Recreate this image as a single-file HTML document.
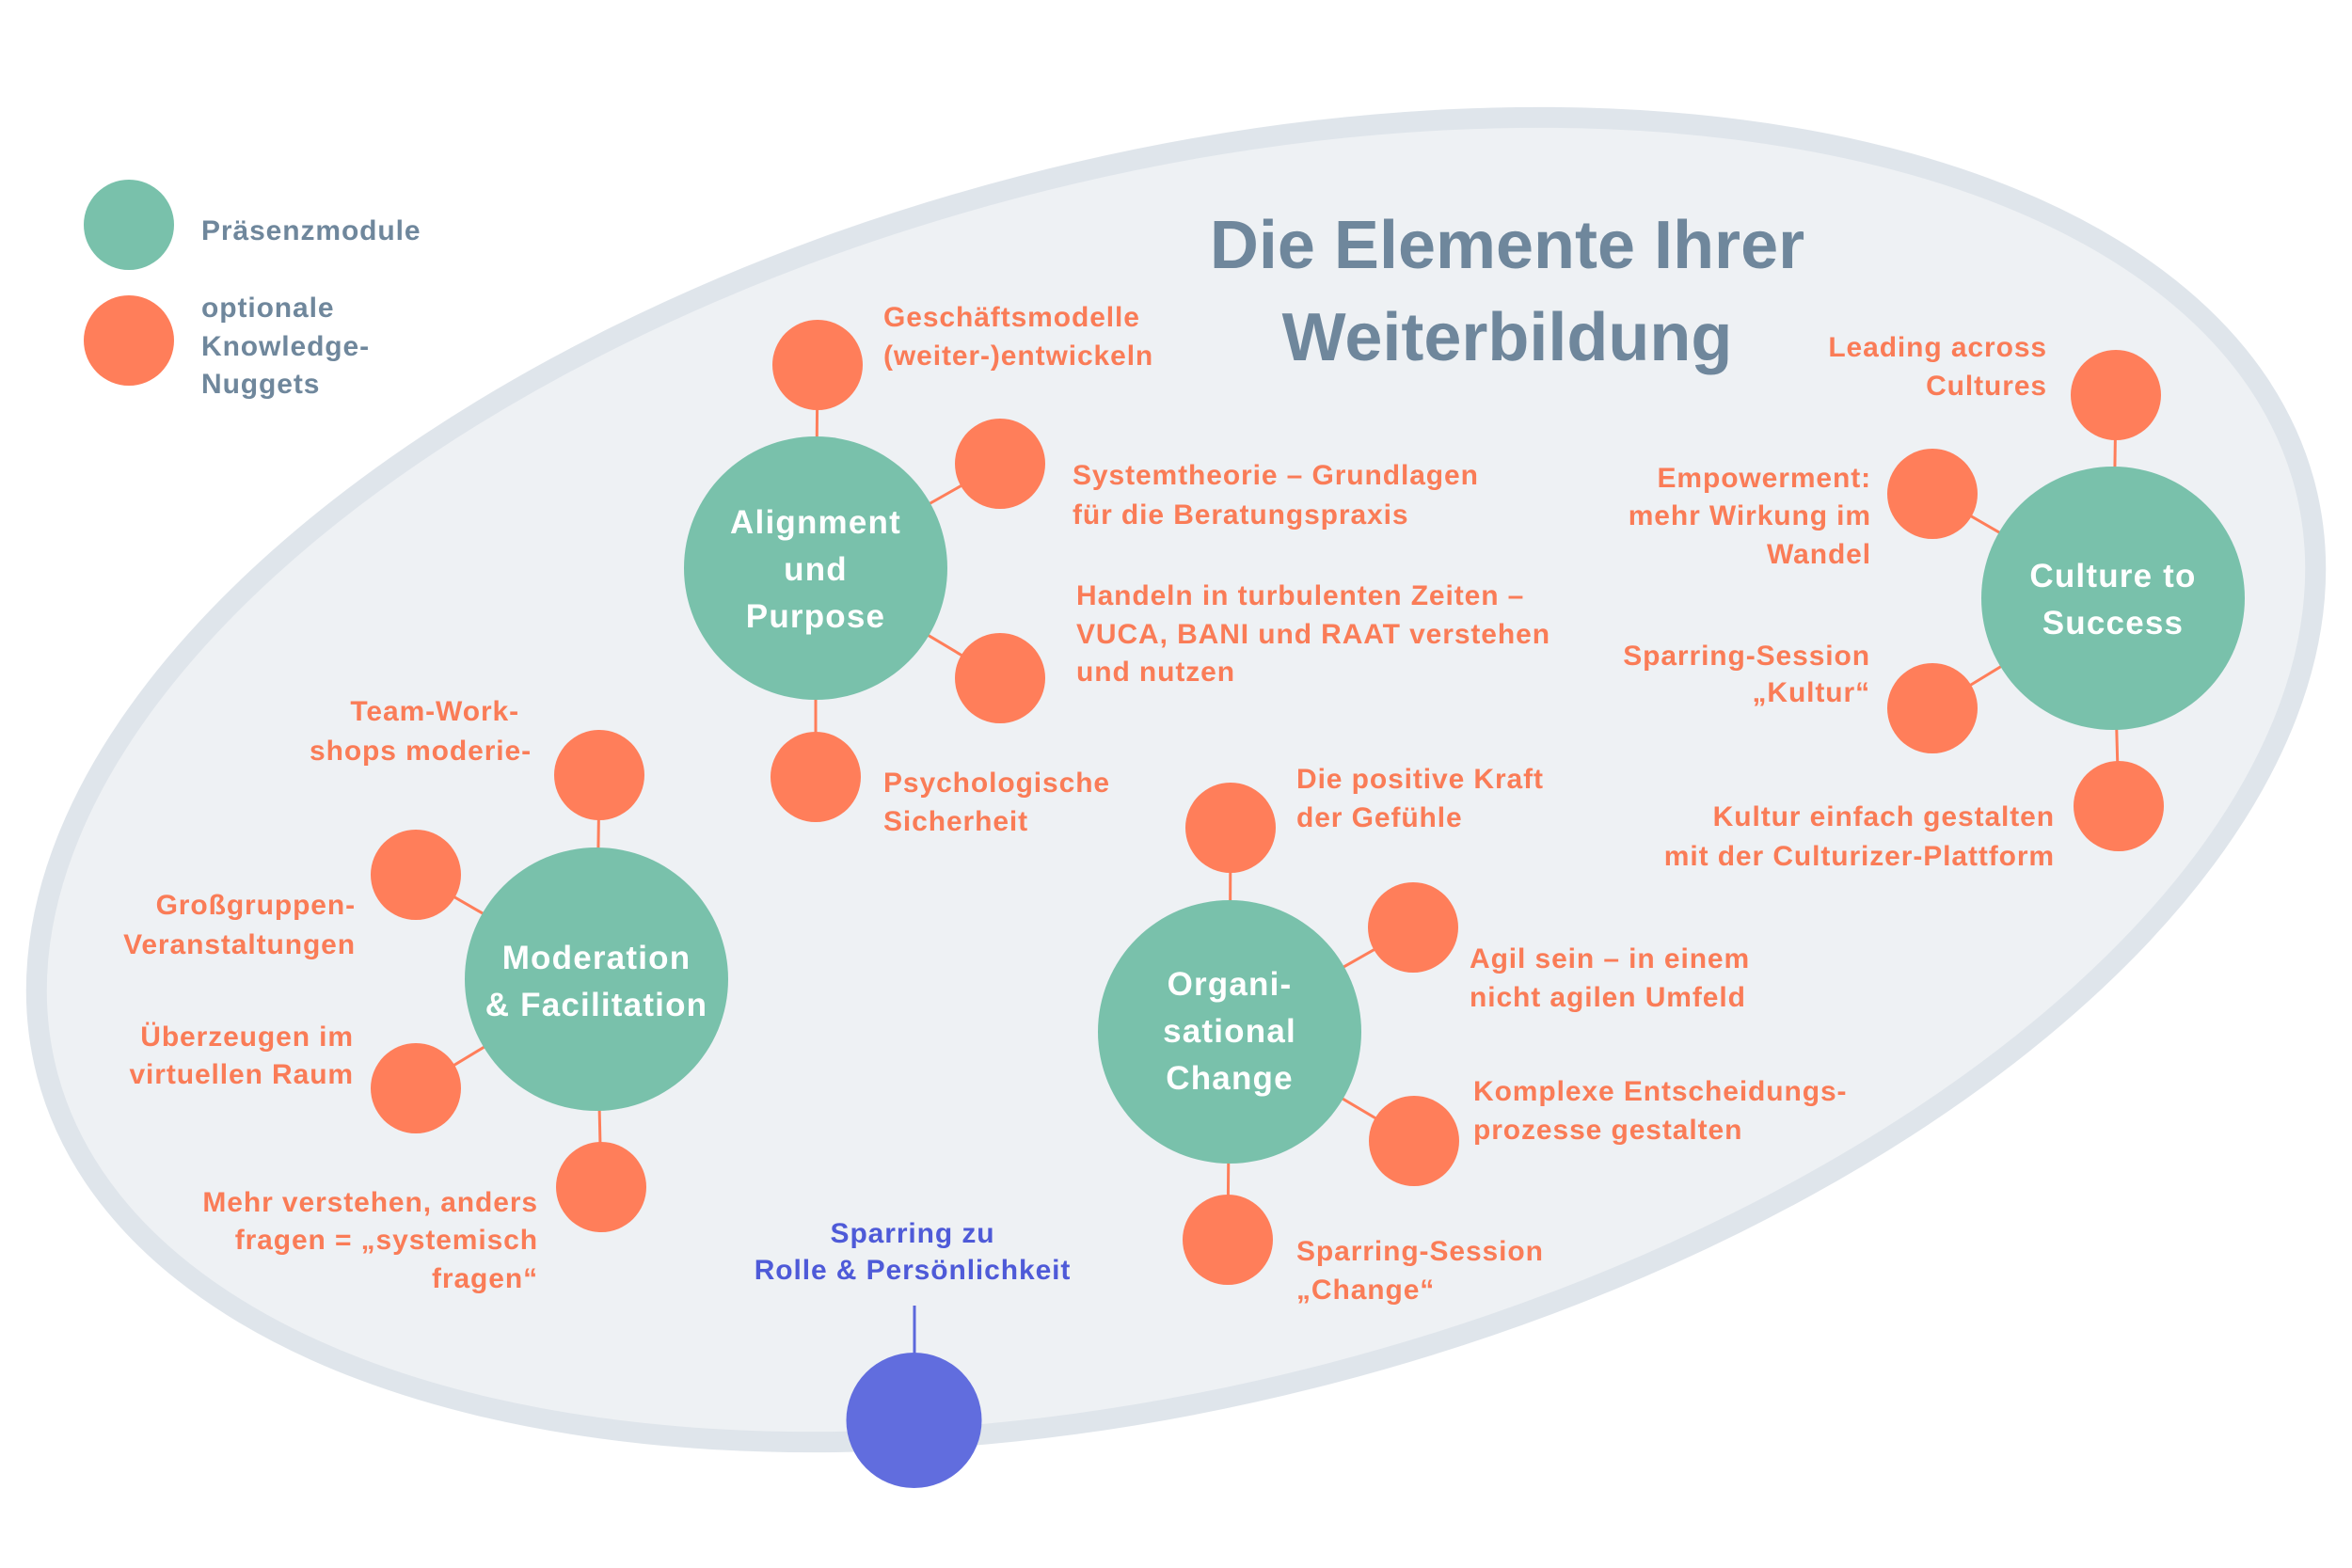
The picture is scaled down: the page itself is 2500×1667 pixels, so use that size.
<!DOCTYPE html>
<html>
<head>
<meta charset="utf-8">
<style>
html,body{margin:0;padding:0;background:#ffffff;width:2500px;height:1667px;overflow:hidden;}
svg{display:block;}
text{font-family:"Liberation Sans",Arial,Helvetica,sans-serif;font-weight:bold;}
.lg{font-size:30px;fill:#6F879C;letter-spacing:0.9px;}
.o{font-size:30px;fill:#FA7C57;letter-spacing:0.9px;}
.b{font-size:30px;fill:#4E5AD8;letter-spacing:0.9px;}
.t{font-size:35px;fill:#ffffff;letter-spacing:1.2px;text-anchor:middle;}
.e{text-anchor:end;}
.m{text-anchor:middle;}
.ttl{font-size:72px;fill:#6F879C;text-anchor:middle;}
</style>
</head>
<body>
<svg width="2500" height="1667" viewBox="0 0 2500 1667" xmlns="http://www.w3.org/2000/svg">
  <rect x="0" y="0" width="2500" height="1667" fill="#ffffff"/>
  <!-- big ellipse (rotated -14.6deg, drawn as arc path) -->
  <path d="M 50 1141.6 A 1240 652 -14.6 0 1 2450 516.4 A 1240 652 -14.6 0 1 50 1141.6 Z" fill="#EEF1F4" stroke="#DFE5EB" stroke-width="22"/>

  <!-- connectors -->
  <g stroke="#FF7E5A" stroke-width="3">
    <line x1="867" y1="604" x2="869" y2="388"/>
    <line x1="867" y1="604" x2="1063" y2="493"/>
    <line x1="867" y1="604" x2="1063" y2="721"/>
    <line x1="867" y1="604" x2="867" y2="826"/>
    <line x1="634" y1="1041" x2="637" y2="824"/>
    <line x1="634" y1="1041" x2="442" y2="930"/>
    <line x1="634" y1="1041" x2="442" y2="1157"/>
    <line x1="634" y1="1041" x2="639" y2="1262"/>
    <line x1="1307" y1="1097" x2="1308" y2="880"/>
    <line x1="1307" y1="1097" x2="1502" y2="986"/>
    <line x1="1307" y1="1097" x2="1503" y2="1213"/>
    <line x1="1307" y1="1097" x2="1305" y2="1318"/>
    <line x1="2246" y1="636" x2="2249" y2="420"/>
    <line x1="2246" y1="636" x2="2054" y2="525"/>
    <line x1="2246" y1="636" x2="2054" y2="753"/>
    <line x1="2246" y1="636" x2="2252" y2="857"/>
  </g>
  <line x1="972" y1="1388" x2="972" y2="1440" stroke="#5C68DC" stroke-width="3"/>

  <!-- legend circles -->
  <circle cx="137" cy="239" r="48" fill="#79C1AB"/>
  <circle cx="137" cy="362" r="48" fill="#FF7E5A"/>

  <!-- teal circles -->
  <g fill="#79C1AB">
    <circle cx="867" cy="604" r="140"/>
    <circle cx="634" cy="1041" r="140"/>
    <circle cx="1307" cy="1097" r="140"/>
    <circle cx="2246" cy="636" r="140"/>
  </g>

  <!-- orange circles -->
  <g fill="#FF7E5A">
    <circle cx="869" cy="388" r="48"/>
    <circle cx="1063" cy="493" r="48"/>
    <circle cx="1063" cy="721" r="48"/>
    <circle cx="867" cy="826" r="48"/>

    <circle cx="637" cy="824" r="48"/>
    <circle cx="442" cy="930" r="48"/>
    <circle cx="442" cy="1157" r="48"/>
    <circle cx="639" cy="1262" r="48"/>

    <circle cx="1308" cy="880" r="48"/>
    <circle cx="1502" cy="986" r="48"/>
    <circle cx="1503" cy="1213" r="48"/>
    <circle cx="1305" cy="1318" r="48"/>

    <circle cx="2249" cy="420" r="48"/>
    <circle cx="2054" cy="525" r="48"/>
    <circle cx="2054" cy="753" r="48"/>
    <circle cx="2252" cy="857" r="48"/>
  </g>

  <!-- blue circle -->
  <circle cx="971.5" cy="1510" r="72" fill="#616DDE"/>

  <!-- legend text -->
  <text class="lg" x="214" y="255">Präsenzmodule</text>
  <text class="lg" x="214" y="337">optionale</text>
  <text class="lg" x="214" y="378">Knowledge-</text>
  <text class="lg" x="214" y="418">Nuggets</text>

  <!-- title -->
  <text class="ttl" x="1602" y="285">Die Elemente Ihrer</text>
  <text class="ttl" x="1602" y="383">Weiterbildung</text>

  <!-- Alignment labels -->
  <text class="o" x="939" y="347">Geschäftsmodelle</text>
  <text class="o" x="939" y="388">(weiter-)entwickeln</text>
  <text class="o" x="1140" y="515">Systemtheorie – Grundlagen</text>
  <text class="o" x="1140" y="557">für die Beratungspraxis</text>
  <text class="o" x="1144" y="643">Handeln in turbulenten Zeiten –</text>
  <text class="o" x="1144" y="684">VUCA, BANI und RAAT verstehen</text>
  <text class="o" x="1144" y="724">und nutzen</text>
  <text class="o" x="939" y="842">Psychologische</text>
  <text class="o" x="939" y="883">Sicherheit</text>

  <text class="t" x="867" y="567">Alignment</text>
  <text class="t" x="867" y="617">und</text>
  <text class="t" x="867" y="667">Purpose</text>

  <!-- Moderation labels -->
  <text class="o e" x="552" y="766">Team-Work-</text>
  <text class="o e" x="565" y="808">shops moderie-</text>
  <text class="o e" x="378" y="972">Großgruppen-</text>
  <text class="o e" x="378" y="1014">Veranstaltungen</text>
  <text class="o e" x="376" y="1112">Überzeugen im</text>
  <text class="o e" x="376" y="1152">virtuellen Raum</text>
  <text class="o e" x="572" y="1288">Mehr verstehen, anders</text>
  <text class="o e" x="572" y="1328">fragen = „systemisch</text>
  <text class="o e" x="572" y="1369">fragen“</text>

  <text class="t" x="634" y="1030">Moderation</text>
  <text class="t" x="634" y="1080">&amp; Facilitation</text>

  <!-- Sparring blue -->
  <text class="b m" x="970" y="1321">Sparring zu</text>
  <text class="b m" x="970" y="1360">Rolle &amp; Persönlichkeit</text>

  <!-- Organisational labels -->
  <text class="o" x="1378" y="838">Die positive Kraft</text>
  <text class="o" x="1378" y="879">der Gefühle</text>
  <text class="o" x="1562" y="1029">Agil sein – in einem</text>
  <text class="o" x="1562" y="1070">nicht agilen Umfeld</text>
  <text class="o" x="1566" y="1170">Komplexe Entscheidungs-</text>
  <text class="o" x="1566" y="1211">prozesse gestalten</text>
  <text class="o" x="1378" y="1340">Sparring-Session</text>
  <text class="o" x="1378" y="1381">„Change“</text>

  <text class="t" x="1307" y="1058">Organi-</text>
  <text class="t" x="1307" y="1108">sational</text>
  <text class="t" x="1307" y="1158">Change</text>

  <!-- Culture labels -->
  <text class="o e" x="2176" y="379">Leading across</text>
  <text class="o e" x="2176" y="420">Cultures</text>
  <text class="o e" x="1989" y="518">Empowerment:</text>
  <text class="o e" x="1989" y="558">mehr Wirkung im</text>
  <text class="o e" x="1989" y="599">Wandel</text>
  <text class="o e" x="1988" y="707">Sparring-Session</text>
  <text class="o e" x="1988" y="746">„Kultur“</text>
  <text class="o e" x="2184" y="878">Kultur einfach gestalten</text>
  <text class="o e" x="2184" y="920">mit der Culturizer-Plattform</text>

  <text class="t" x="2246" y="624">Culture to</text>
  <text class="t" x="2246" y="674">Success</text>
</svg>
</body>
</html>
